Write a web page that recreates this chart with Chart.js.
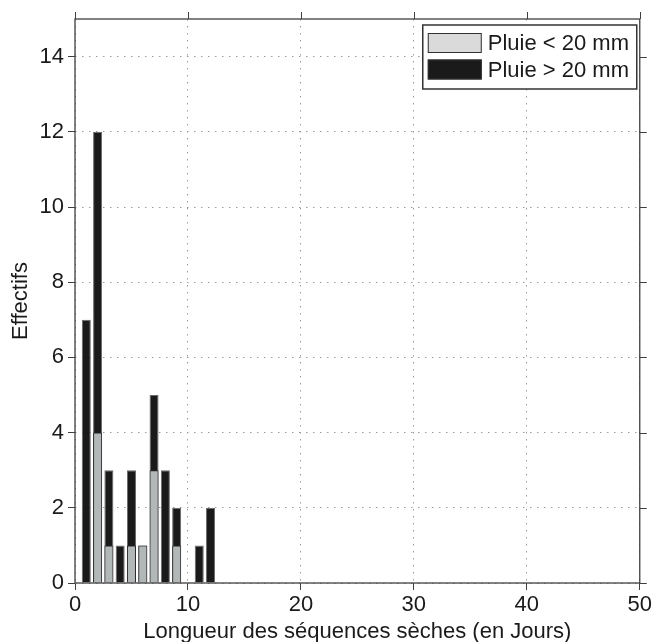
<!DOCTYPE html>
<html>
<head>
<meta charset="utf-8">
<script src="https://cdn.jsdelivr.net/npm/chart.js@4.4.1/dist/chart.umd.min.js"></script>
<style>
  html, body { margin: 0; padding: 0; background: #fff; }
  #wrap { width: 654px; height: 642px; }
</style>
</head>
<body>
<div id="wrap"><canvas id="chart" width="654" height="642"></canvas></div>
<script>
// Data
const lengths = [1, 2, 3, 4, 5, 6, 7, 8, 9, 10, 11, 12];
const rainBelow20 = [0, 4, 1, 0, 1, 1, 3, 0, 1, 0, 0, 0];
const rainAbove20 = [7, 12, 3, 1, 3, 1, 5, 3, 2, 0, 1, 2];
const xTicks = [0, 10, 20, 30, 40, 50];
const yTicks = [0, 2, 4, 6, 8, 10, 12, 14];
const seriesLabels = ["Pluie < 20 mm", "Pluie > 20 mm"];

const FONT = "'Liberation Sans', Arial, sans-serif";
const AXIS = "#404040";

function toPoints(values) {
  return lengths
    .map((len, i) => ({ x: len, y: values[i] }))
    .filter((p) => p.y > 0);
}

// frame + outward ticks on top/right (MATLAB box on)
const framePlugin = {
  id: "frame",
  afterDraw(chart) {
    const { ctx, chartArea: a, scales } = chart;
    ctx.save();
    ctx.strokeStyle = AXIS;
    ctx.lineWidth = 1.3;
    ctx.strokeRect(a.left, a.top, a.right - a.left, a.bottom - a.top);
    ctx.lineWidth = 1;
    ctx.beginPath();
    xTicks.forEach((v) => {
      const px = Math.round(scales.x.getPixelForValue(v)) + 0.5;
      ctx.moveTo(px, a.top);
      ctx.lineTo(px, a.top - 7);
    });
    yTicks.forEach((v) => {
      const py = Math.round(scales.y.getPixelForValue(v)) + 0.5;
      ctx.moveTo(a.right, py);
      ctx.lineTo(a.right + 7, py);
    });
    ctx.stroke();
    ctx.restore();
  },
};

// boxed legend in the upper right corner
const legendBoxPlugin = {
  id: "legendBox",
  afterDraw(chart) {
    const { ctx, chartArea: a } = chart;
    const right = a.right - 3;
    const top = a.top + 6;
    const w = 214;
    const h = 64;
    const left = right - w;
    ctx.save();
    ctx.fillStyle = "#fff";
    ctx.fillRect(left, top, w, h);
    ctx.strokeStyle = "#333";
    ctx.lineWidth = 1.5;
    ctx.strokeRect(left, top, w, h);
    const swatches = ["#dadada", "#1a1a1a"];
    ctx.font = "22px " + FONT;
    ctx.textBaseline = "middle";
    seriesLabels.forEach((lab, i) => {
      const y = top + 8 + i * 26.5;
      ctx.fillStyle = swatches[i];
      ctx.fillRect(left + 5, y, 54, 20);
      ctx.strokeStyle = "#333";
      ctx.lineWidth = 1;
      ctx.strokeRect(left + 5.5, y + 0.5, 53, 19);
      ctx.fillStyle = "#1a1a1a";
      ctx.fillText(lab, left + 65, y + 11);
    });
    ctx.restore();
  },
};

new Chart(document.getElementById("chart"), {
  type: "bar",
  data: {
    datasets: [
      {
        label: seriesLabels[0],
        data: toPoints(rainBelow20),
        backgroundColor: "#b2b8b8",
        borderColor: "#2e2e2e",
        borderWidth: 1,
      },
      {
        label: seriesLabels[1],
        data: toPoints(rainAbove20),
        backgroundColor: "#1a1a1a",
        borderColor: "#6a6a6a",
        borderWidth: 1,
      },
    ],
  },
  options: {
    responsive: false,
    animation: false,
    grouped: false,
    barPercentage: 0.8,
    categoryPercentage: 1,
    layout: { padding: { top: 19, right: 14, left: 0, bottom: 0 } },
    plugins: {
      legend: { display: false },
      tooltip: { enabled: false },
    },
    scales: {
      x: {
        type: "linear",
        min: 0,
        max: 50,
        offset: false,
        afterBuildTicks: (scale) => {
          scale.ticks = xTicks.map((v) => ({ value: v }));
        },
        afterFit: (scale) => {
          scale.height = 59;
        },
        ticks: {
          font: { family: FONT, size: 22 },
          color: "#1a1a1a",
          padding: 2,
          maxRotation: 0,
        },
        grid: {
          offset: false,
          color: "#9a9a9a",
          lineWidth: 1,
          tickLength: 7,
          tickColor: AXIS,
        },
        border: { display: false, dash: [1.5, 5.5] },
        title: {
          display: true,
          text: "Longueur des séquences sèches (en Jours)",
          font: { family: FONT, size: 22 },
          color: "#1a1a1a",
          padding: { top: 0, bottom: -3 },
        },
      },
      y: {
        min: 0,
        max: 15,
        afterBuildTicks: (scale) => {
          scale.ticks = yTicks.map((v) => ({ value: v }));
        },
        afterFit: (scale) => {
          scale.width = 75;
        },
        ticks: {
          font: { family: FONT, size: 22 },
          color: "#1a1a1a",
          padding: 4,
        },
        grid: {
          color: "#9a9a9a",
          lineWidth: 1,
          tickLength: 7,
          tickColor: AXIS,
        },
        border: { display: false, dash: [1.5, 5.5] },
        title: {
          display: true,
          text: "Effectifs",
          font: { family: FONT, size: 22 },
          color: "#1a1a1a",
          padding: { top: 8, bottom: 0 },
        },
      },
    },
  },
  plugins: [framePlugin, legendBoxPlugin],
});
</script>
</body>
</html>
